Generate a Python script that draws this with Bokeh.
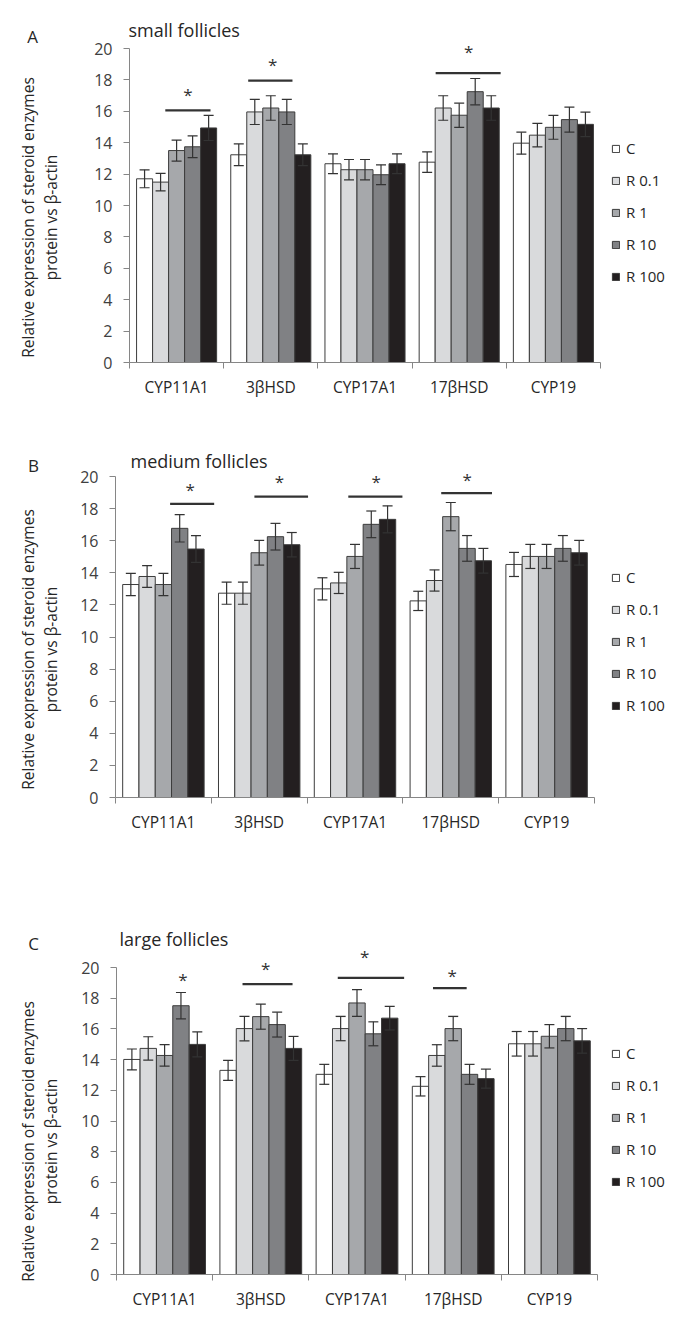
import math
from bokeh.plotting import figure
from bokeh.models import (Range1d, FixedTicker, Whisker, TeeHead, ColumnDataSource,
                          Legend, LegendItem, Label)
from bokeh.layouts import column
from bokeh.embed import file_html
from bokeh.resources import INLINE
from bokeh.core.properties import value

FONT = "Open Sans"

# ---------------- data ----------------
enzymes = ["CYP11A1", "3βHSD", "CYP17A1", "17βHSD", "CYP19"]
groups = ["C", "R 0.1", "R 1", "R 10", "R 100"]
group_colors = ["#ffffff", "#d9dadc", "#a6a8ab", "#808184", "#231f20"]
y_ticks = [0, 2, 4, 6, 8, 10, 12, 14, 16, 18, 20]

# small follicles (A)
small_C = [11.70, 13.23, 12.66, 12.76, 13.97]
small_R01 = [11.49, 15.96, 12.28, 16.21, 14.48]
small_R1 = [13.50, 16.21, 12.28, 15.75, 14.98]
small_R10 = [13.74, 15.96, 11.96, 17.25, 15.47]
small_R100 = [14.94, 13.23, 12.66, 16.21, 15.17]
small_C_err = [0.57, 0.69, 0.63, 0.65, 0.70]
small_R01_err = [0.56, 0.80, 0.65, 0.78, 0.75]
small_R1_err = [0.67, 0.78, 0.65, 0.77, 0.76]
small_R10_err = [0.69, 0.80, 0.63, 0.84, 0.80]
small_R100_err = [0.80, 0.69, 0.63, 0.78, 0.78]

# medium follicles (B)
medium_C = [13.27, 12.73, 13.00, 12.25, 14.52]
medium_R01 = [13.77, 12.73, 13.37, 13.52, 15.02]
medium_R1 = [13.27, 15.25, 15.02, 17.50, 15.02]
medium_R10 = [16.77, 16.25, 17.02, 15.52, 15.52]
medium_R100 = [15.48, 15.75, 17.33, 14.75, 15.25]
medium_C_err = [0.69, 0.69, 0.69, 0.60, 0.75]
medium_R01_err = [0.68, 0.69, 0.66, 0.66, 0.75]
medium_R1_err = [0.69, 0.77, 0.75, 0.88, 0.75]
medium_R10_err = [0.85, 0.83, 0.83, 0.80, 0.80]
medium_R100_err = [0.83, 0.76, 0.84, 0.77, 0.77]

# large follicles (C)
large_C = [14.01, 13.30, 13.04, 12.26, 15.03]
large_R01 = [14.73, 16.02, 16.02, 14.27, 15.03]
large_R1 = [14.27, 16.80, 17.69, 16.02, 15.52]
large_R10 = [17.51, 16.28, 15.68, 13.04, 16.02]
large_R100 = [14.99, 14.73, 16.70, 12.76, 15.22]
large_C_err = [0.68, 0.65, 0.65, 0.63, 0.80]
large_R01_err = [0.76, 0.80, 0.79, 0.70, 0.80]
large_R1_err = [0.70, 0.82, 0.87, 0.79, 0.76]
large_R10_err = [0.86, 0.81, 0.78, 0.65, 0.79]
large_R100_err = [0.81, 0.78, 0.77, 0.62, 0.80]

# significance marks: (enzyme index, line start, line end, line level, star pos, star level)
small_sig = [(0, 0.38, 0.86, 16.06, 0.62, 17.1),
             (1, 0.26, 0.73, 17.95, 0.52, 18.98),
             (3, 0.25, 0.94, 18.43, 0.60, 19.79)]
medium_sig = [(0, 0.57, 1.03, 18.29, 0.78, 19.2),
              (1, 0.45, 1.01, 18.75, 0.71, 19.69),
              (2, 0.43, 0.995, 18.75, 0.72, 19.69),
              (3, 0.40, 0.93, 18.96, 0.67, 19.83)]
large_sig = [(0, None, None, None, 0.69, 19.2),
             (1, 0.31, 0.83, 18.92, 0.55, 19.93),
             (2, 0.30, 0.99, 19.33, 0.58, 20.69),
             (3, 0.29, 0.64, 18.66, 0.49, 19.46)]

y_label_1 = "Relative expression of steroid enzymes"
y_label_2 = "protein vs β-actin"

panels = [
    dict(letter="A", title="small follicles",
         means=[small_C, small_R01, small_R1, small_R10, small_R100],
         errs=[small_C_err, small_R01_err, small_R1_err, small_R10_err, small_R100_err],
         sig=small_sig,
         top=0, height=425, y20=48, y0=362, ax_l=129, ax_r=600,
         leg_top=148, title_xy=(128, 29), letter_xy=(32, 36), ylab_y=217),
    dict(letter="B", title="medium follicles",
         means=[medium_C, medium_R01, medium_R1, medium_R10, medium_R100],
         errs=[medium_C_err, medium_R01_err, medium_R1_err, medium_R10_err, medium_R100_err],
         sig=medium_sig,
         top=425, height=455, y20=476, y0=797, ax_l=115, ax_r=594,
         leg_top=577, title_xy=(130, 460), letter_xy=(33, 465), ylab_y=649),
    dict(letter="C", title="large follicles",
         means=[large_C, large_R01, large_R1, large_R10, large_R100],
         errs=[large_C_err, large_R01_err, large_R1_err, large_R10_err, large_R100_err],
         sig=large_sig,
         top=880, height=452, y20=967, y0=1274, ax_l=116, ax_r=597,
         leg_top=1053, title_xy=(119, 938), letter_xy=(33, 943), ylab_y=1141),
]

FIG_W = 684
BAR_W = 0.17
TXT = "#262626"
AXC = "#868686"
DARK = "#333333"


def make_panel(cfg):
    ux = (cfg["ax_r"] - cfg["ax_l"]) / 5.0
    uy = (cfg["y0"] - cfg["y20"]) / 20.0
    top, H = cfg["top"], cfg["height"]

    def dx(px):
        return (px - cfg["ax_l"]) / ux

    def dy(py):
        return (cfg["y0"] - py) / uy

    p = figure(width=FIG_W, height=H, output_backend="svg", toolbar_location=None,
               x_range=Range1d(dx(0), dx(FIG_W)), y_range=Range1d(dy(top + H), dy(top)),
               min_border_left=0, min_border_right=0, min_border_top=0,
               min_border_bottom=0)
    p.outline_line_color = None
    p.xgrid.visible = False
    p.ygrid.visible = False
    p.background_fill_color = "white"
    p.border_fill_color = "white"

    # y axis placed at x = 0 (category-axis origin)
    ya = p.yaxis[0]
    ya.fixed_location = 0
    ya.ticker = FixedTicker(ticks=y_ticks)
    ya.bounds = (0, 20)
    ya.axis_line_color = AXC
    ya.major_tick_line_color = AXC
    ya.major_tick_in = 0
    ya.major_tick_out = 6
    ya.minor_tick_line_color = None
    ya.major_label_standoff = 11
    ya.major_label_text_font = FONT
    ya.major_label_text_font_size = "16px"
    ya.major_label_text_color = "#404040"

    # x axis at y = 0: category labels at centres, boundary ticks as minor ticks
    xa = p.xaxis[0]
    xa.fixed_location = 0
    xa.ticker = FixedTicker(ticks=[i + 0.5 for i in range(5)],
                            minor_ticks=[float(i) for i in range(6)])
    xa.major_label_overrides = {i + 0.5: enzymes[i] for i in range(5)}
    xa.bounds = (0, 5)
    xa.axis_line_color = AXC
    xa.major_tick_line_color = None
    xa.major_tick_in = 0
    xa.major_tick_out = 0
    xa.minor_tick_line_color = AXC
    xa.minor_tick_in = 0
    xa.minor_tick_out = 6
    xa.major_label_standoff = 7
    xa.major_label_text_font = FONT
    xa.major_label_text_font_size = "15.5px"
    xa.major_label_text_color = "#262626"

    items = []
    for k, g in enumerate(groups):
        xs = [i + 0.5 + (k - 2) * BAR_W for i in range(5)]
        m = cfg["means"][k]
        e = cfg["errs"][k]
        src = ColumnDataSource(dict(x=xs, top=m,
                                    upper=[a + b for a, b in zip(m, e)],
                                    lower=[a - b for a, b in zip(m, e)]))
        r = p.vbar(x="x", top="top", bottom=0, width=BAR_W, source=src,
                   fill_color=group_colors[k], line_color="#3c3c3c", line_width=1)
        w = Whisker(base="x", upper="upper", lower="lower", source=src,
                    dimension="height", line_color=DARK, line_width=1.2, level="overlay",
                    upper_head=TeeHead(size=10, line_color=DARK, line_width=1.2),
                    lower_head=TeeHead(size=10, line_color=DARK, line_width=1.2))
        p.add_layout(w)
        items.append(LegendItem(label=g, renderers=[r]))

    # significance lines and asterisks
    sx0, sx1, sy, tx, ty = [], [], [], [], []
    for (i, a, b, lvl, sp, slvl) in cfg["sig"]:
        if a is not None:
            sx0.append(i + a)
            sx1.append(i + b)
            sy.append(lvl)
        tx.append(i + sp)
        ty.append(slvl)
    if sx0:
        p.segment(x0=sx0, y0=sy, x1=sx1, y1=sy, line_color=DARK, line_width=2.2)
    p.text(x=tx, y=ty, text=["*"] * len(tx), text_align="center", text_baseline="middle",
           text_font=value(FONT), text_font_size="17px", text_color=DARK)

    # legend (inside the frame, to the right of the bars)
    n = len(groups)
    item_h, spacing = 20, 12
    box_h = n * item_h + (n - 1) * spacing
    box_bottom = cfg["leg_top"] - item_h / 2 + box_h
    leg = Legend(items=items, location=(611, top + H - box_bottom),
                 orientation="vertical", glyph_width=9, glyph_height=9,
                 label_standoff=6, spacing=spacing, padding=0, margin=0,
                 label_height=item_h, border_line_color=None, background_fill_alpha=0,
                 label_text_font=FONT, label_text_font_size="15px",
                 label_text_color=TXT)
    p.add_layout(leg)

    # title, panel letter, two-line y-axis label
    tx_, ty_ = cfg["title_xy"]
    p.add_layout(Label(x=dx(tx_), y=dy(ty_), text=cfg["title"], text_font=FONT,
                       text_font_size="18px", text_color=TXT, text_align="left",
                       text_baseline="middle"))
    lx_, ly_ = cfg["letter_xy"]
    p.add_layout(Label(x=dx(lx_), y=dy(ly_), text=cfg["letter"], text_font=FONT,
                       text_font_size="17px", text_color=TXT, text_align="center",
                       text_baseline="middle"))
    p.add_layout(Label(x=dx(27), y=dy(cfg["ylab_y"]), text=y_label_1,
                       angle=math.pi / 2, text_font=FONT, text_font_size="15.5px",
                       text_color=TXT, text_align="center", text_baseline="middle"))
    p.add_layout(Label(x=dx(50), y=dy(cfg["ylab_y"]), text=y_label_2,
                       angle=math.pi / 2, text_font=FONT, text_font_size="15.5px",
                       text_color=TXT, text_align="center", text_baseline="middle"))
    return p


figs = [make_panel(c) for c in panels]
layout = column(*figs, spacing=0)
open("out.html", "w").write(file_html(layout, INLINE))
